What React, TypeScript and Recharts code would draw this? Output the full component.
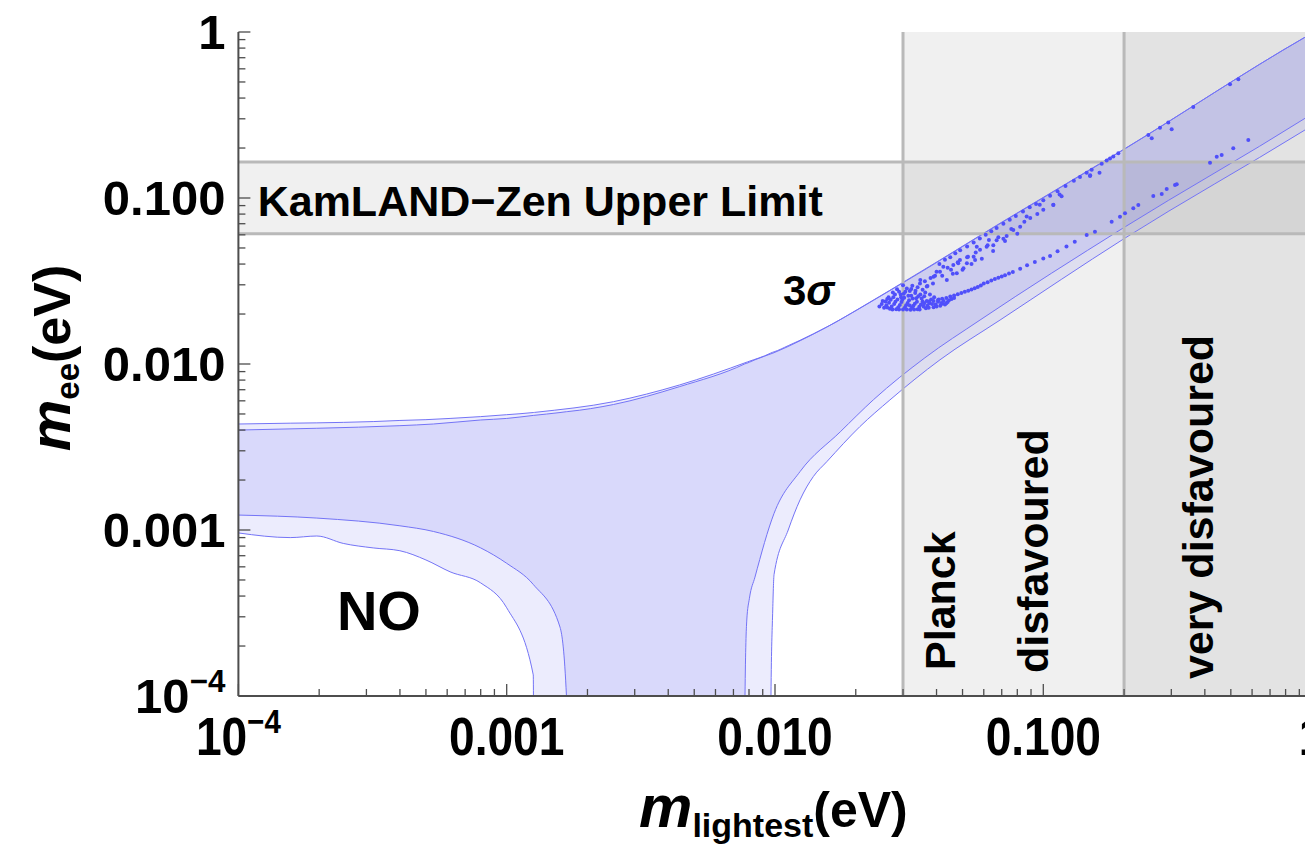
import React from "react";
import {
  ComposedChart,
  Area,
  Scatter,
  XAxis,
  YAxis,
  ReferenceArea,
  ReferenceLine,
  ReferenceDot,
} from "recharts";

// 3 sigma band (light), NO
const outerX = [1e-4, 1.56e-4, 1.96e-4, 2.46e-4, 3.18e-4, 4.0e-4, 5.0e-4, 6.15e-4, 8.0e-4, 1.0e-3, 1.256e-3, 1.27e-3, 2.5e-3, 4.4e-3, 7.9e-3, 9.6e-3, 9.66e-3, 9.8e-3, 9.92e-3, 0.0112, 0.0124, 0.0139, 0.0156, 0.0207, 0.0268, 0.0412, 0.069, 0.199, 0.945, 1.0];
const outerLo = [9.6e-4, 9.0e-4, 9.2e-4, 8.3e-4, 7.8e-4, 7.5e-4, 6.6e-4, 5.6e-4, 4.8e-4, 3.4e-4, 1.34e-4, 1e-6, 1e-6, 1e-6, 1e-6, 1e-6, 1.0e-4, 3.15e-4, 5.4e-4, 1.0e-3, 1.52e-3, 2.1e-3, 2.58e-3, 4.19e-3, 6.07e-3, 0.0106, 0.0184, 0.0566, 0.257, 0.272];
const outerHi = [4.35e-3, 4.4e-3, 4.42e-3, 4.45e-3, 4.5e-3, 4.57e-3, 4.62e-3, 4.7e-3, 4.82e-3, 4.95e-3, 5.1e-3, 5.11e-3, 5.93e-3, 7.47e-3, 0.0103, 0.0116, 0.01166, 0.01177, 0.01184, 0.0129, 0.0139, 0.0152, 0.0167, 0.0217, 0.0278, 0.0423, 0.0705, 0.196, 0.93, 0.98];

// inner band (darker)
const innerX = [1e-4, 1.96e-4, 4.0e-4, 5.33e-4, 8.0e-4, 1.0e-3, 1.256e-3, 1.58e-3, 1.67e-3, 1.69e-3, 2.5e-3, 4.4e-3, 7.7e-3, 7.73e-3, 7.85e-3, 8.03e-3, 8.42e-3, 9.92e-3, 0.0124, 0.0175, 0.0233, 0.0362, 0.0581, 0.1986, 0.945, 1.0];
const innerLo = [1.23e-3, 1.18e-3, 1.06e-3, 9.8e-4, 7.8e-4, 6.3e-4, 4.7e-4, 2.6e-4, 1.0e-4, 1e-6, 1e-6, 1e-6, 1e-6, 1.0e-4, 2.87e-4, 3.88e-4, 5.2e-4, 1.26e-3, 2.25e-3, 3.9e-3, 6.1e-3, 0.0109, 0.0184, 0.066, 0.302, 0.32];
const innerHi = [4.0e-3, 4.1e-3, 4.25e-3, 4.35e-3, 4.6e-3, 4.7e-3, 4.9e-3, 5.1e-3, 5.16e-3, 5.17e-3, 5.7e-3, 7.3e-3, 0.01, 0.01003, 0.0101, 0.01025, 0.0106, 0.0117, 0.0138, 0.0185, 0.0242, 0.037, 0.0592, 0.195, 0.93, 0.98];

// scan points
const clusterPts = [
  [0.0245, 0.0222], [0.0255, 0.0218], [0.026, 0.0226], [0.0268, 0.0215], [0.0272, 0.0222], [0.0278, 0.023],
  [0.0283, 0.0214], [0.0288, 0.022], [0.0292, 0.0227], [0.0296, 0.0236], [0.03, 0.0213], [0.0305, 0.0219],
  [0.0308, 0.0226], [0.0312, 0.0233], [0.0316, 0.0242], [0.032, 0.0212], [0.0324, 0.0218], [0.0328, 0.0224],
  [0.0332, 0.0231], [0.0336, 0.0249], [0.034, 0.0214], [0.0345, 0.0221], [0.035, 0.0228], [0.0355, 0.0238],
  [0.036, 0.0256], [0.0365, 0.0217], [0.037, 0.0224], [0.0376, 0.0232], [0.0382, 0.0245], [0.039, 0.022],
  [0.0397, 0.0228], [0.0405, 0.0237], [0.0413, 0.0224], [0.042, 0.0231], [0.043, 0.0228], [0.044, 0.0236],
  [0.0265, 0.0252], [0.028, 0.0262], [0.029, 0.0272], [0.0302, 0.0265], [0.031, 0.0285], [0.0318, 0.0275],
  [0.0325, 0.0296], [0.0333, 0.0268], [0.034, 0.029], [0.0347, 0.0305], [0.0355, 0.028], [0.0362, 0.0315],
  [0.037, 0.0295], [0.038, 0.033], [0.0388, 0.0305], [0.0395, 0.034], [0.03, 0.0298], [0.0285, 0.0282],
  [0.0275, 0.027], [0.0258, 0.0238], [0.0262, 0.0246], [0.0295, 0.0252], [0.0322, 0.0258], [0.0348, 0.0262],
  [0.025, 0.023], [0.0252, 0.024], [0.0262, 0.0219], [0.0266, 0.0234], [0.027, 0.0244], [0.0274, 0.0213],
  [0.0276, 0.0252], [0.0281, 0.0237], [0.0286, 0.0245], [0.029, 0.0213], [0.0294, 0.0262], [0.0298, 0.0244],
  [0.0303, 0.0251], [0.0306, 0.0272], [0.031, 0.0213], [0.0314, 0.0258], [0.0318, 0.0225], [0.0322, 0.0283],
  [0.0326, 0.0248], [0.033, 0.0213], [0.0334, 0.0276], [0.0338, 0.0237], [0.0342, 0.0256], [0.0346, 0.0213],
  [0.0352, 0.0248], [0.0358, 0.0222], [0.0363, 0.027], [0.0368, 0.024], [0.0374, 0.0218], [0.0378, 0.0262],
  [0.0385, 0.023], [0.0392, 0.0252], [0.04, 0.0222], [0.0408, 0.0245], [0.0416, 0.0233], [0.0425, 0.024],
  [0.0435, 0.0232], [0.0445, 0.0242], [0.0455, 0.0246], [0.0465, 0.025],
];
const upperBranch = [
  [0.041, 0.04], [0.043, 0.0425], [0.045, 0.044], [0.047, 0.0465], [0.049, 0.0485], [0.052, 0.051],
  [0.055, 0.054], [0.058, 0.057], [0.061, 0.06], [0.064, 0.063], [0.067, 0.066], [0.071, 0.07],
  [0.075, 0.074], [0.079, 0.078], [0.084, 0.083], [0.089, 0.088], [0.094, 0.092], [0.1, 0.097],
  [0.106, 0.103], [0.113, 0.11], [0.121, 0.118], [0.13, 0.127], [0.137, 0.134], [0.1451, 0.142],
  [0.1515, 0.148], [0.1651, 0.161], [0.1723, 0.168], [0.1773, 0.173], [0.1824, 0.178], [0.1904, 0.186],
  [0.2722, 0.265], [0.2924, 0.285], [0.3622, 0.353], [0.4965, 0.484], [0.5333, 0.52], [0.2463, 0.24],
];
const midPts = [
  [0.04, 0.036], [0.042, 0.034], [0.044, 0.038], [0.046, 0.035], [0.048, 0.041], [0.05, 0.037],
  [0.0453, 0.0369], [0.0482, 0.0405], [0.0524, 0.0443], [0.0565, 0.0509], [0.0627, 0.0558],
  [0.052, 0.044], [0.054, 0.04], [0.056, 0.047], [0.059, 0.043], [0.062, 0.052], [0.065, 0.048],
  [0.068, 0.058], [0.072, 0.055], [0.076, 0.065], [0.08, 0.061], [0.085, 0.072], [0.0894, 0.0757],
  [0.095, 0.08], [0.1, 0.085], [0.109, 0.0908], [0.117, 0.1023], [0.1495, 0.137], [0.162, 0.142],
  [0.1493, 0.1357], [0.2536, 0.2289], [0.3009, 0.2594],
  [0.0348, 0.0321], [0.0368, 0.0293], [0.039, 0.0336], [0.0412, 0.036], [0.0437, 0.0321], [0.0424, 0.0386],
  [0.0462, 0.0395], [0.0476, 0.0352], [0.0489, 0.0423], [0.0504, 0.0378], [0.0519, 0.0404], [0.055, 0.0443],
  [0.0557, 0.0423], [0.0581, 0.0487], [0.0615, 0.0509], [0.0651, 0.052], [0.067, 0.0556], [0.071, 0.0568],
  [0.073, 0.059], [0.0773, 0.0642], [0.082, 0.067], [0.0867, 0.0775], [0.097, 0.091], [0.109, 0.091],
  [0.115, 0.105],
];
const lowerBranch = [
  [0.036, 0.0232], [0.039, 0.024], [0.042, 0.0247], [0.045, 0.0255], [0.048, 0.0263], [0.051, 0.0272],
  [0.054, 0.0281], [0.057, 0.0291], [0.06, 0.0305], [0.064, 0.0318], [0.068, 0.0331], [0.072, 0.0343],
  [0.077, 0.0358], [0.082, 0.0375], [0.087, 0.0393], [0.093, 0.0412], [0.1, 0.0432], [0.106, 0.0448],
  [0.113, 0.0478], [0.122, 0.051], [0.131, 0.0545], [0.1451, 0.0598], [0.1558, 0.0627], [0.1798, 0.072],
  [0.1931, 0.0771], [0.2016, 0.0809], [0.2165, 0.0867], [0.226, 0.0907], [0.257, 0.1028], [0.2763, 0.1057],
  [0.2884, 0.1133], [0.3097, 0.1198], [0.3143, 0.121], [0.4182, 0.1632], [0.443, 0.1774], [0.4622, 0.1816],
  [0.5106, 0.1993], [0.5808, 0.2236],
  [0.0375, 0.0238], [0.0405, 0.0243], [0.0435, 0.025], [0.0465, 0.0259], [0.0495, 0.0268], [0.0525, 0.0276],
  [0.0555, 0.0286], [0.0585, 0.0297], [0.062, 0.0311], [0.066, 0.0325], [0.07, 0.0337], [0.0745, 0.0351],
];

const axisTicks = [
  1e-4, 2e-4, 3e-4, 4e-4, 5e-4, 6e-4, 7e-4, 8e-4, 9e-4,
  1e-3, 2e-3, 3e-3, 4e-3, 5e-3, 6e-3, 7e-3, 8e-3, 9e-3,
  0.01, 0.02, 0.03, 0.04, 0.05, 0.06, 0.07, 0.08, 0.09,
  0.1, 0.2, 0.3, 0.4, 0.5, 0.6, 0.7, 0.8, 0.9, 1,
];
const majorTicks = [1e-4, 1e-3, 0.01, 0.1, 1];
const xTickLabels = ["10^-4", "0.001", "0.010", "0.100", "1"];
const yTickLabels = ["10^-4", "0.001", "0.010", "0.100", "1"];

// experimental bounds
const kamlandLow = 0.061;
const kamlandHigh = 0.165;
const planckSum = 0.03;
const veryDisfavoured = 0.2;

const outerBand = outerX.map((x, i) => ({ x, range: [outerLo[i], outerHi[i]] }));
const innerBand = innerX.map((x, i) => ({ x, range: [innerLo[i], innerHi[i]] }));
const scanPts = [...clusterPts, ...upperBranch, ...midPts, ...lowerBranch].map(([x, y]) => ({ x, y }));

const FONT = "'Liberation Sans', Arial, Helvetica, sans-serif";
const AXIS = "#4d4d4d";
const BLUE_LINE = "#7474f6";
const BLUE_FILL = "#5656ee";

const majorIndex = (v: number) => majorTicks.findIndex((m) => Math.abs(v / m - 1) < 1e-6);

const tickText = (label: string, size: number) =>
  label === "10^-4" ? (
    <>
      <tspan>10</tspan>
      <tspan dy={-size * 0.42} fontSize={size * 0.64}>−4</tspan>
    </>
  ) : (
    label
  );

const BottomTick = (p: any) => {
  const i = majorIndex(p.payload.value);
  return (
    <g>
      <line x1={p.x} x2={p.x} y1={p.y} y2={p.y - (i >= 0 ? 12 : 7)} stroke={AXIS} strokeWidth={1.3} />
      {i >= 0 && (
        <text
          transform={`translate(${p.x},${p.y + 59}) scale(0.87,1)`}
          textAnchor="middle"
          fontFamily={FONT}
          fontWeight={700}
          fontSize={53}
          fill="#000"
        >
          {tickText(xTickLabels[i], 53)}
        </text>
      )}
    </g>
  );
};

const TopTick = (p: any) => {
  const i = majorIndex(p.payload.value);
  return <line x1={p.x} x2={p.x} y1={p.y} y2={p.y + (i >= 0 ? 12 : 7)} stroke={AXIS} strokeWidth={1.3} />;
};

const LeftTick = (p: any) => {
  const i = majorIndex(p.payload.value);
  return (
    <g>
      <line x1={p.x} x2={p.x + (i >= 0 ? 12 : 7)} y1={p.y} y2={p.y} stroke={AXIS} strokeWidth={1.3} />
      {i >= 0 && (
        <text x={p.x - 13} y={p.y + 17} textAnchor="end" fontFamily={FONT} fontWeight={700} fontSize={49} fill="#000">
          {tickText(yTickLabels[i], 49)}
        </text>
      )}
    </g>
  );
};

const RightTick = (p: any) => {
  const i = majorIndex(p.payload.value);
  return <line x1={p.x} x2={p.x - (i >= 0 ? 12 : 7)} y1={p.y} y2={p.y} stroke={AXIS} strokeWidth={1.3} />;
};

const XTitle = (p: any) => {
  const vb = p.viewBox;
  return (
    <text
      transform={`translate(${vb.x + 535},${vb.y + 131})`}
      textAnchor="middle"
      fontFamily={FONT}
      fontWeight={700}
      fill="#000"
    >
      <tspan fontSize={60} fontStyle="italic">m</tspan>
      <tspan fontSize={34} dy={10}>lightest</tspan>
      <tspan fontSize={50} dy={-10}>(eV)</tspan>
    </text>
  );
};

const YTitle = (p: any) => {
  const vb = p.viewBox;
  const cx = vb.x + 32;
  const cy = vb.y + 326;
  return (
    <text
      transform={`translate(${cx},${cy}) rotate(-90)`}
      textAnchor="middle"
      fontFamily={FONT}
      fontWeight={700}
      fill="#000"
    >
      <tspan fontSize={58} fontStyle="italic">m</tspan>
      <tspan fontSize={33} dy={9}>ee</tspan>
      <tspan fontSize={52} dy={-9}>(eV)</tspan>
    </text>
  );
};

const note = (text: React.ReactNode, size: number, anchor: string, rotate = false) =>
  (p: any) => (
    <text
      x={p.cx}
      y={p.cy}
      transform={rotate ? `rotate(-90 ${p.cx} ${p.cy})` : undefined}
      textAnchor={anchor}
      fontFamily={FONT}
      fontWeight={700}
      fontSize={size}
      fill="#000"
    >
      {text}
    </text>
  );

export default function App() {
  return (
    <div style={{ position: "absolute", left: 0, top: 0, width: 1305, height: 844, overflow: "hidden", background: "#fff" }}>
      <ComposedChart width={1330} height={844} margin={{ top: 32, right: 18.4, left: 38.4, bottom: 48 }}>
        <XAxis
          dataKey="x"
          type="number"
          scale="log"
          domain={[1e-4, 1]}
          allowDataOverflow
          ticks={axisTicks}
          interval={0}
          tickSize={0}
          tickMargin={0}
          tick={BottomTick}
          axisLine={{ stroke: AXIS, strokeWidth: 2 }}
          height={100}
          label={XTitle}
        />
        <XAxis
          xAxisId="top"
          orientation="top"
          dataKey="x"
          type="number"
          scale="log"
          domain={[1e-4, 1]}
          allowDataOverflow
          ticks={axisTicks}
          interval={0}
          tickSize={0}
          tickMargin={0}
          tick={TopTick}
          axisLine={{ stroke: AXIS, strokeWidth: 2 }}
          height={0}
        />
        <YAxis
          dataKey="y"
          type="number"
          scale="log"
          domain={[1e-4, 1]}
          allowDataOverflow
          ticks={axisTicks}
          interval={0}
          tickSize={0}
          tickMargin={0}
          tick={LeftTick}
          axisLine={{ stroke: AXIS, strokeWidth: 2 }}
          width={200}
          label={YTitle}
        />
        <YAxis
          yAxisId="right"
          orientation="right"
          type="number"
          scale="log"
          domain={[1e-4, 1]}
          allowDataOverflow
          ticks={axisTicks}
          interval={0}
          tickSize={0}
          tickMargin={0}
          tick={RightTick}
          axisLine={{ stroke: AXIS, strokeWidth: 2 }}
          width={0}
        />

        <ReferenceArea x1={planckSum} x2={1} y1={1e-4} y2={1} fill="#000" fillOpacity={0.06} stroke="none" />
        <ReferenceArea x1={veryDisfavoured} x2={1} y1={1e-4} y2={1} fill="#000" fillOpacity={0.05} stroke="none" />
        <ReferenceArea x1={1e-4} x2={1} y1={kamlandLow} y2={kamlandHigh} fill="#000" fillOpacity={0.06} stroke="none" />
        <ReferenceLine x={planckSum} stroke="#b9b9b9" strokeWidth={3} />
        <ReferenceLine x={veryDisfavoured} stroke="#b9b9b9" strokeWidth={3} />
        <ReferenceLine y={kamlandLow} stroke="#b9b9b9" strokeWidth={3} />
        <ReferenceLine y={kamlandHigh} stroke="#b9b9b9" strokeWidth={3} />

        <Area
          data={outerBand}
          dataKey="range"
          type="monotone"
          stroke={BLUE_LINE}
          strokeWidth={1}
          fill={BLUE_FILL}
          fillOpacity={0.11}
          isAnimationActive={false}
          dot={false}
          activeDot={false}
        />
        <Area
          data={innerBand}
          dataKey="range"
          type="monotone"
          stroke={BLUE_LINE}
          strokeWidth={1}
          fill={BLUE_FILL}
          fillOpacity={0.12}
          isAnimationActive={false}
          dot={false}
          activeDot={false}
        />
        <Scatter
          data={scanPts}
          dataKey="y"
          isAnimationActive={false}
          shape={(p: any) => <circle cx={p.cx} cy={p.cy} r={2} fill="#4f4ffa" />}
        />

        <ReferenceDot x={1.18e-4} y={0.078} r={1} shape={note("KamLAND−Zen Upper Limit", 43, "start")} />
        <ReferenceDot x={3.34e-4} y={2.5e-4} r={1} shape={note("NO", 56, "middle")} />
        <ReferenceDot
          x={0.0107}
          y={0.02266}
          r={1}
          shape={note(<><tspan>3</tspan><tspan fontStyle="italic">σ</tspan></>, 42, "start")}
        />
        <ReferenceDot x={0.0469} y={1.435e-4} r={1} shape={note("Planck", 43, "start", true)} />
        <ReferenceDot x={0.1041} y={1.376e-4} r={1} shape={note("disfavoured", 43, "start", true)} />
        <ReferenceDot x={0.429} y={1.265e-4} r={1} shape={note("very disfavoured", 43, "start", true)} />
      </ComposedChart>
    </div>
  );
}
